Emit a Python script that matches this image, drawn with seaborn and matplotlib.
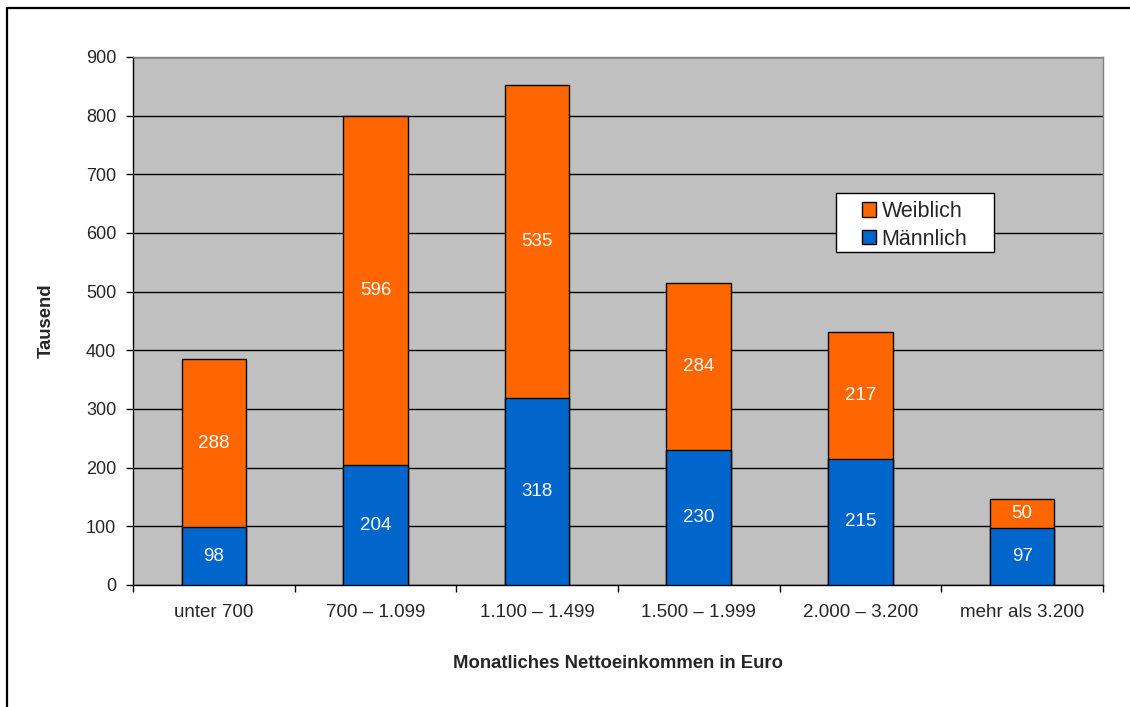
import pandas as pd
import matplotlib.pyplot as plt
import seaborn as sns
from matplotlib.patches import Patch, Rectangle
from matplotlib.lines import Line2D

# data (in thousands)
kategorien = ["unter 700", "700 – 1.099", "1.100 – 1.499", "1.500 – 1.999", "2.000 – 3.200", "mehr als 3.200"]
maennlich = [98, 204, 318, 230, 215, 97]
weiblich = [288, 596, 535, 284, 217, 50]

orange = "#FF6600"
blau = "#0066CC"

df = pd.DataFrame({"kat": kategorien, "m": maennlich, "w": weiblich})
df["gesamt"] = df["m"] + df["w"]

sns.set_style("white")
plt.rcParams["font.family"] = ["Liberation Sans", "DejaVu Sans"]

fig = plt.figure(figsize=(11.3, 7.07), dpi=100)
ax = fig.add_axes([0.1177, 0.1726, 0.8584, 0.7468])
ax.set_facecolor("#C0C0C0")

# stacked bars: total in orange, male part drawn on top in blue
sns.barplot(data=df, x="kat", y="gesamt", color=orange, width=0.4, edgecolor="black",
            linewidth=1, saturation=1, ax=ax, zorder=3)
sns.barplot(data=df, x="kat", y="m", color=blau, width=0.4, edgecolor="black",
            linewidth=1, saturation=1, ax=ax, zorder=4)

for i, row in df.iterrows():
    ax.text(i, row["m"] / 2, str(row["m"]), ha="center", va="center", color="white", fontsize=13.5, zorder=5)
    ax.text(i, row["m"] + row["w"] / 2, str(row["w"]), ha="center", va="center", color="white", fontsize=13.5, zorder=5)

ax.set_ylim(0, 900)
ax.set_xlim(-0.5, 5.5)
ax.set_yticks(range(0, 901, 100))
ax.yaxis.grid(True, color="black", linewidth=1)
ax.set_axisbelow(True)

ax.tick_params(axis="y", length=5, width=1, color="black", pad=7, labelsize=13, left=True)
ax.tick_params(axis="x", which="major", length=0, pad=14, labelsize=13.5)
ax.set_xticks([x - 0.5 for x in range(7)], minor=True)
ax.tick_params(axis="x", which="minor", length=5, width=1, color="black", bottom=True)

for s in ["left", "bottom"]:
    ax.spines[s].set_color("black")
    ax.spines[s].set_linewidth(1)
for s in ["top", "right"]:
    ax.spines[s].set_color("#808080")
    ax.spines[s].set_linewidth(1)

ax.set_xlabel("Monatliches Nettoeinkommen in Euro", fontsize=13.3, fontweight="bold")
ax.set_ylabel("Tausend", fontsize=13.3, fontweight="bold")
ax.xaxis.set_label_coords(0.5, -0.1326)
ax.yaxis.set_label_coords(-0.0804, 0.5)

# legend box (wider than matplotlib's default padding)
ax.add_patch(Rectangle((0.7247, 0.6307), 0.1629, 0.1117, transform=ax.transAxes, facecolor="white",
                       edgecolor="black", linewidth=1, zorder=6))
handles = [Patch(facecolor=orange, edgecolor="black", label="Weiblich"),
           Patch(facecolor=blau, edgecolor="black", label="Männlich")]
leg = ax.legend(handles=handles, loc="center", bbox_to_anchor=(0.8061, 0.681), fontsize=15.5,
                frameon=False, handlelength=0.65, handleheight=0.65,
                handletextpad=0.25, borderpad=0, labelspacing=0.3, borderaxespad=0)
leg.set_zorder(7)

# outer border of the picture (left and top edges)
fig.add_artist(Line2D([6.5 / 1130, 6.5 / 1130], [0, 1 - 7.5 / 707], color="black", linewidth=1.6))
fig.add_artist(Line2D([6.5 / 1130, 1], [1 - 7.5 / 707, 1 - 7.5 / 707], color="black", linewidth=1.6))

fig.savefig("out.png", dpi=100)
